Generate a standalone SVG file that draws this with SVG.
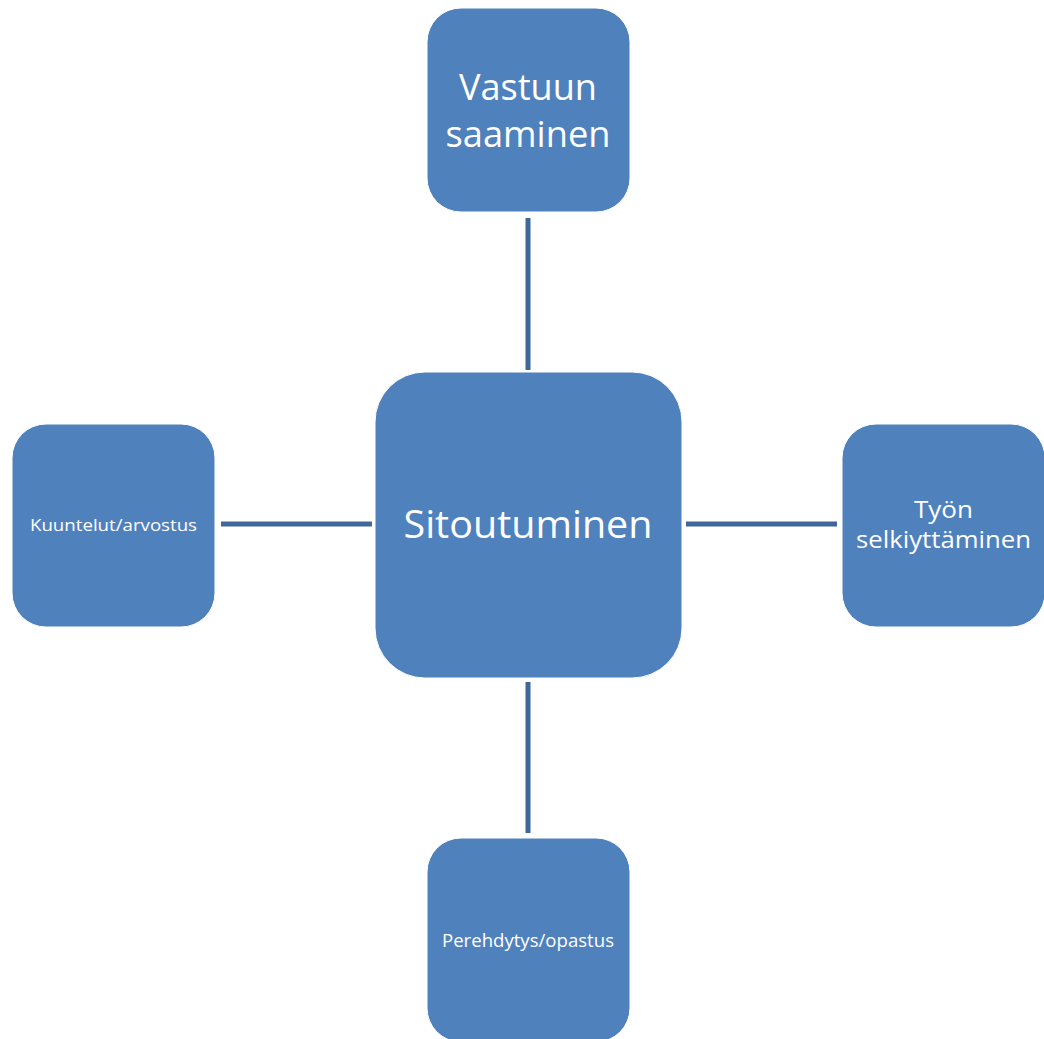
<svg xmlns="http://www.w3.org/2000/svg" width="1044" height="1039" viewBox="0 0 1044 1039">
<style>
.box{fill:#4F81BD;stroke:#ffffff;stroke-width:1}
.t{fill:#ffffff;font-family:"Open Sans","Noto Sans","Liberation Sans",sans-serif;text-anchor:middle}
.c{stroke:#41679A;stroke-width:5;fill:none}
</style>
<rect width="1044" height="1039" fill="#ffffff"/>
<g id="connectors">
<line class="c" x1="528" y1="218" x2="528" y2="370"/>
<line class="c" x1="528" y1="682" x2="528" y2="833"/>
<line class="c" x1="221" y1="524" x2="372" y2="524"/>
<line class="c" x1="686" y1="524" x2="837" y2="524"/>
</g>
<g id="center">
<rect class="box" x="375" y="372" width="307" height="306" rx="50" ry="50"/>
<text class="t" x="528" y="538" font-size="39" textLength="249" lengthAdjust="spacingAndGlyphs">Sitoutuminen</text>
</g>
<g id="top">
<rect class="box" x="427" y="8" width="203" height="204" rx="34" ry="34"/>
<text class="t" x="528" y="100" font-size="37" textLength="138" lengthAdjust="spacingAndGlyphs">Vastuun</text>
<text class="t" x="528" y="147" font-size="37" textLength="165" lengthAdjust="spacingAndGlyphs">saaminen</text>
</g>
<g id="left">
<rect class="box" x="12" y="424" width="203" height="203" rx="34" ry="34"/>
<text class="t" x="113.5" y="531" font-size="17" textLength="167" lengthAdjust="spacingAndGlyphs">Kuuntelut/arvostus</text>
</g>
<g id="right">
<rect class="box" x="842" y="424" width="203" height="203" rx="34" ry="34"/>
<text class="t" x="943.5" y="518" font-size="23" textLength="59" lengthAdjust="spacingAndGlyphs">Työn</text>
<text class="t" x="943.5" y="548" font-size="23" textLength="175" lengthAdjust="spacingAndGlyphs">selkiyttäminen</text>
</g>
<g id="bottom">
<rect class="box" x="427" y="838" width="203" height="204" rx="34" ry="34"/>
<text class="t" x="528" y="947" font-size="18" textLength="172" lengthAdjust="spacingAndGlyphs">Perehdytys/opastus</text>
</g>
</svg>
